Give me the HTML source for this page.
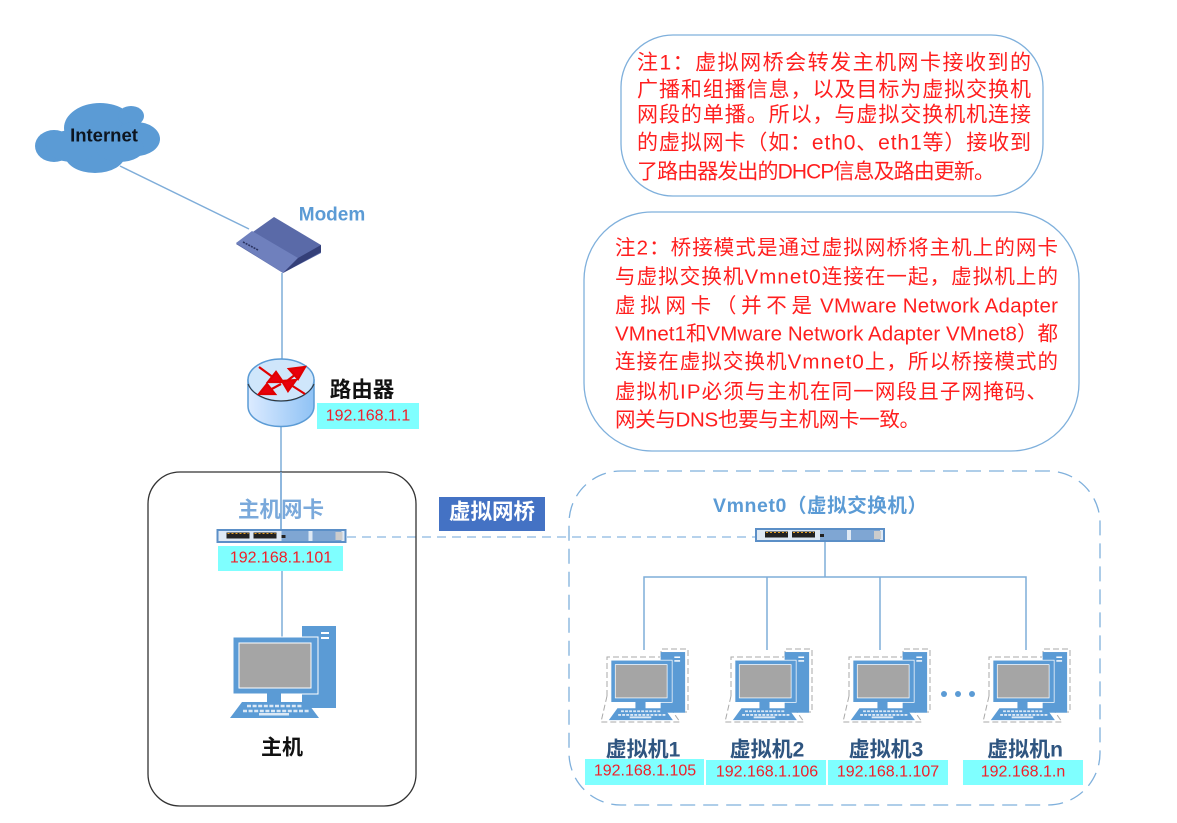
<!DOCTYPE html>
<html><head><meta charset="utf-8"><style>
html,body{margin:0;padding:0;background:#fff}
svg{display:block;filter:blur(.35px)}
text{font-family:"Liberation Sans","Noto Sans CJK SC",sans-serif}
.n{fill:#ff1f1f;font-size:20.5px;dominant-baseline:central}
.n1{font-size:21px}
.ip{fill:#f0202a;font-size:16px;text-anchor:middle;dominant-baseline:central}
.vm{fill:#2f5580;font-size:21px;font-weight:700;text-anchor:middle;dominant-baseline:central}
.b{fill:#5b9bd5}
.l{stroke:#7fadd9;stroke-width:1.5;fill:none}
</style></head><body>
<svg xmlns="http://www.w3.org/2000/svg" width="1177" height="823" viewBox="0 0 1177 823">
<defs>
<g id="pc">
<rect class="b" x="302" y="626" width="34" height="82"/>
<rect x="321" y="632" width="8" height="2" fill="#fff"/><rect x="321" y="637" width="8" height="2" fill="#fff"/>
<rect x="233" y="637" width="85" height="57" fill="#5b9bd5" stroke="#fff"/>
<rect x="239" y="643" width="72" height="45" fill="#a5a5a5" stroke="#fff"/>
<rect class="b" x="267" y="693" width="14" height="10"/>
<polygon class="b" points="242,702 307,702 319,718 230,718"/>
<path d="M247 706H303M243 711H309" stroke="#dbe8f5" stroke-width="2.4" stroke-dasharray="4 1.6"/>
<rect x="259" y="713" width="30" height="2.5" fill="#dbe8f5"/>
</g>
<g id="vm">
<path d="M607 696V657H660M661 657V649H688V712H678M607 696L601 722H680L673 712" fill="none" stroke="#aaa" stroke-dasharray="6 3"/>
<use href="#pc" transform="translate(443.2,188.8) scale(.72,.74)"/>
</g>
<g id="sw">
<rect x="0" y="0" width="130" height="14" fill="#5b8fc7"/>
<rect x="2" y="2" width="126" height="10" fill="#dfe9f4"/>
<rect x="10" y="3.500" width="23" height="6" fill="#222"/><rect x="37" y="3.500" width="23" height="6" fill="#222"/>
<path d="M11 4.500H32M38 4.500H59" stroke="#e8a020" stroke-width="1" stroke-dasharray="2 2"/>
<rect x="65" y="2" width="60" height="10" fill="#7fa6d3"/>
<rect x="92" y="2" width="4" height="10" fill="#dfe9f4"/><rect x="119" y="3" width="7" height="8" fill="#ccc"/>
<rect x="65" y="6" width="4" height="3" fill="#222"/>
</g>
<linearGradient id="g" x1="0" x2="1" y1="0" y2="0"><stop offset="0" stop-color="#dcebff"/><stop offset="1" stop-color="#8fc2f5"/></linearGradient>
</defs>
<rect width="1177" height="823" fill="#fff"/>

<!-- connectors -->
<path class="l" d="M120 166L249 229M282 273V359M281 427V530M282 571V637"/>
<path d="M347 537H755" stroke="#9dc3e6" stroke-width="1.6" stroke-dasharray="9 6"/>
<path class="l" d="M825 542V577M644 650V577H1026V650M767 577V650M880 577V650"/>

<!-- cloud -->
<g class="b">
<ellipse cx="100" cy="128" rx="36" ry="25"/><ellipse cx="131" cy="116" rx="13" ry="10"/>
<ellipse cx="54" cy="146" rx="19" ry="16"/><ellipse cx="136" cy="139" rx="24" ry="17"/>
<ellipse cx="95" cy="155" rx="30" ry="18"/><ellipse cx="72" cy="146" rx="26" ry="16"/>
<ellipse cx="120" cy="148" rx="24" ry="14"/>
</g>
<text x="104" y="135" font-size="18.500" font-weight="700" fill="#0d1520" text-anchor="middle" dominant-baseline="central">Internet</text>

<!-- modem -->
<polygon points="274,217 321,245 321,253 283,273 236,244" fill="#5a6aa8"/>
<polygon points="236,243 252,231 298,258 283,273" fill="#6f80bd"/>
<polygon points="283,273 298,258 321,245 321,252" fill="#343f78"/>
<path d="M243 242L258 250" stroke="#2b3360" stroke-width="1.6" stroke-dasharray="2 1"/>
<text x="332" y="215" font-size="19" font-weight="700" fill="#5b9bd5" text-anchor="middle" dominant-baseline="central">Modem</text>

<!-- router -->
<path d="M248 380V406C248 418 263 426.500 281 426.500S314 418 314 406V380Z" fill="url(#g)" stroke="#5b9bd5" stroke-width="1.500"/>
<ellipse cx="281" cy="380" rx="33" ry="21" fill="#cfe6fb" stroke="#5b9bd5" stroke-width="1.500"/>
<path d="M248 384C252 394 266 401 281 401S310 394 314 384" fill="none" stroke="#333" stroke-width="1"/>
<g stroke="#e00000" stroke-width="2.200" fill="#e8000c">
<path d="M259 367L274 378" fill="none"/><polygon points="283,382 268,382 276,372"/>
<path d="M283 384L296 374" fill="none"/><polygon points="305,367 289,369 298,379"/>
<path d="M281 384L268 391" fill="none"/><polygon points="259,394 275,394 267,384"/>
<path d="M305 394L291 385" fill="none"/><polygon points="282,381 296,380 288,391"/>
</g>
<text x="362" y="390" font-size="21.500" font-weight="700" fill="#111" text-anchor="middle" dominant-baseline="central">路由器</text>
<rect x="317" y="403" width="102" height="26" fill="#7fffff"/>
<text class="ip" x="368" y="416">192.168.1.1</text>

<!-- host -->
<rect x="148" y="472" width="268" height="334" rx="32" fill="none" stroke="#333" stroke-width="1.300"/>
<path class="l" d="M281 472V530"/>
<text x="281" y="510" font-size="21.500" font-weight="700" fill="#7aa9db" text-anchor="middle" dominant-baseline="central">主机网卡</text>
<use href="#sw" x="216.500" y="529"/>
<rect x="218" y="546" width="125" height="25" fill="#7fffff"/>
<text class="ip" x="281" y="558">192.168.1.101</text>
<use href="#pc"/>
<text x="282" y="748" font-size="21" font-weight="700" fill="#111" text-anchor="middle" dominant-baseline="central">主机</text>

<!-- bridge -->
<rect x="439" y="497" width="106" height="34" fill="#4472c4"/>
<text x="492" y="512" font-size="21.500" font-weight="700" fill="#fff" text-anchor="middle" dominant-baseline="central">虚拟网桥</text>

<!-- vmnet -->
<rect x="569" y="471" width="531" height="334" rx="52" fill="none" stroke="#7fb0dc" stroke-width="1.300" stroke-dasharray="15 8"/>
<text x="713" y="506" font-size="19.500" font-weight="700" fill="#5b9bd5" dominant-baseline="central" textLength="214" lengthAdjust="spacing">Vmnet0（虚拟交换机）</text>
<use href="#sw" x="755" y="528"/>

<use href="#vm"/><use href="#vm" x="124"/><use href="#vm" x="242"/><use href="#vm" x="382"/>
<circle class="b" cx="944" cy="694" r="3"/><circle class="b" cx="958" cy="694" r="3"/><circle class="b" cx="972" cy="694" r="3"/>

<text class="vm" x="643" y="750">虚拟机1</text>
<text class="vm" x="767" y="750">虚拟机2</text>
<text class="vm" x="886" y="750">虚拟机3</text>
<text class="vm" x="1025" y="750">虚拟机n</text>
<rect x="585" y="759" width="119" height="26" fill="#7fffff"/>
<rect x="706" y="760" width="120" height="25" fill="#7fffff"/>
<rect x="828" y="760" width="120" height="25" fill="#7fffff"/>
<rect x="963" y="760" width="120" height="25" fill="#7fffff"/>
<text class="ip" x="645" y="771">192.168.1.105</text>
<text class="ip" x="767" y="772">192.168.1.106</text>
<text class="ip" x="888" y="772">192.168.1.107</text>
<text class="ip" x="1023" y="772">192.168.1.n</text>

<!-- notes -->
<rect x="621" y="35" width="422" height="161" rx="52" fill="#fff" stroke="#7fb0dc" stroke-width="1.300"/>
<text class="n n1" x="637" y="63" textLength="394" lengthAdjust="spacing">注1：虚拟网桥会转发主机网卡接收到的</text>
<text class="n n1" x="637" y="90" textLength="394" lengthAdjust="spacing">广播和组播信息，以及目标为虚拟交换机</text>
<text class="n n1" x="637" y="115" textLength="394" lengthAdjust="spacing">网段的单播。所以，与虚拟交换机机连接</text>
<text class="n n1" x="637" y="143" textLength="394" lengthAdjust="spacing">的虚拟网卡（如：eth0、eth1等）接收到</text>
<text class="n n1" x="637" y="172" textLength="358" lengthAdjust="spacing">了路由器发出的DHCP信息及路由更新。</text>

<rect x="584" y="212" width="495" height="239" rx="68" fill="#fff" stroke="#7fb0dc" stroke-width="1.300"/>
<text class="n" x="615" y="248" textLength="443" lengthAdjust="spacing">注2：桥接模式是通过虚拟网桥将主机上的网卡</text>
<text class="n" x="615" y="277" textLength="443" lengthAdjust="spacing">与虚拟交换机Vmnet0连接在一起，虚拟机上的</text>
<text class="n" x="615" y="306" textLength="197" lengthAdjust="spacing">虚拟网卡（并不是</text>
<text class="n" x="820" y="306" textLength="238" lengthAdjust="spacing">VMware Network Adapter</text>
<text class="n" x="615" y="334" textLength="443" lengthAdjust="spacing">VMnet1和VMware Network Adapter VMnet8）都</text>
<text class="n" x="615" y="362" textLength="443" lengthAdjust="spacing">连接在虚拟交换机Vmnet0上，所以桥接模式的</text>
<text class="n" x="615" y="392" textLength="432" lengthAdjust="spacing">虚拟机IP必须与主机在同一网段且子网掩码、</text>
<text class="n" x="615" y="420" textLength="305" lengthAdjust="spacing">网关与DNS也要与主机网卡一致。</text>
</svg>
</body></html>
